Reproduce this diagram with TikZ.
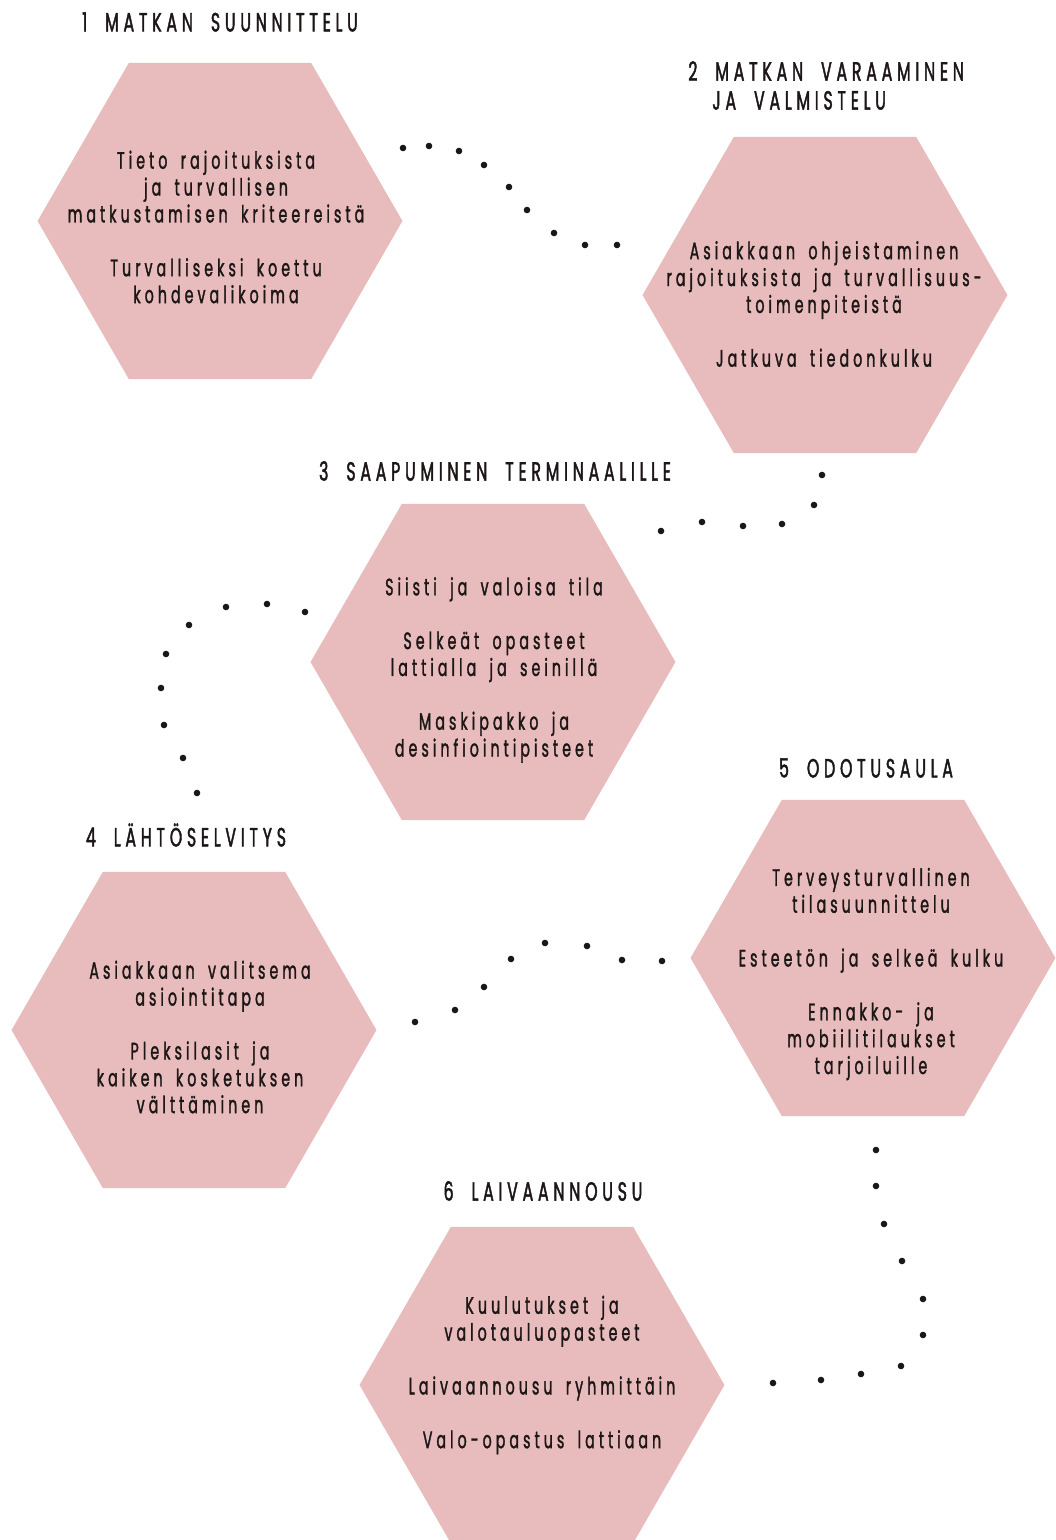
\documentclass[tikz,border=0pt]{standalone}
\usepackage{fontspec}
\setmainfont{Poppins}
\newfontfamily\titlefont[FakeStretch=0.6,FakeBold=1.6,LetterSpace=18,WordSpace=2]{Poppins}
\newfontfamily\bodyfont[FakeStretch=0.6,FakeBold=1.3,LetterSpace=17,WordSpace=1.7]{Poppins}
\usepackage{tikz}
\usetikzlibrary{shapes.geometric}
\usetikzlibrary{positioning}
\definecolor{hexpink}{RGB}{232,188,188}
\definecolor{ink}{RGB}{28,22,22}

\begin{document}
\begin{tikzpicture} [x=0.02cm, y=-0.02cm,
                hexagon/.style = {regular polygon, regular polygon sides=6, minimum size=7.3cm, inner sep=0pt, fill=hexpink},
                steptitle/.style = {font=\titlefont\fontsize{15}{16.5}\selectfont, text=ink, inner sep=0pt},
                steptext/.style = {font=\bodyfont\fontsize{13.5}{15.3}\selectfont, text=ink, align=center, inner sep=0pt},
                dot/.style = {fill=ink}
            ]
            \useasboundingbox (0,0) rectangle (1055,1540);
            \node (hex1) at (220, 221) [hexagon] {};
            \node (hex2) at (825, 295) [hexagon] {};
            \node (hex3) at (493, 662) [hexagon] {};
            \node (hex4) at (194, 1030) [hexagon] {};
            \node (hex5) at (873, 958) [hexagon] {};
            \node (hex6) at (542, 1385) [hexagon] {};
            \node (ttl1) at (220, 22) [steptitle] {1 MATKAN SUUNNITTELU};
            \node (ttl2) at (688, 85.5) [steptitle, anchor=west, align=left] {2 MATKAN VARAAMINEN\\\hspace*{0.48cm}JA VALMISTELU};
            \node (ttl3) at (495, 471) [steptitle] {3 SAAPUMINEN TERMINAALILLE};
            \node (ttl4) at (186, 835) [steptitle] {4 LÄHTÖSELVITYS};
            \node (ttl5) at (866, 768) [steptitle] {5 ODOTUSAULA};
            \node (ttl6) at (543, 1191) [steptitle] {6 LAIVAANNOUSU};
            \node (txt1) at (216, 227) [steptext] {Tieto rajoituksista\\ja turvallisen\\matkustamisen kriteereistä\\[15.3pt]Turvalliseksi koettu\\kohdevalikoima};
            \node (txt2) at (824, 304) [steptext] {Asiakkaan ohjeistaminen\\rajoituksista ja turvallisuus-\\toimenpiteistä\\[15.3pt]Jatkuva tiedonkulku};
            \node (txt3) at (494, 670) [steptext] {Siisti ja valoisa tila\\[15.3pt]Selkeät opasteet\\lattialla ja seinillä\\[15.3pt]Maskipakko ja\\desinfiointipisteet};
            \node (txt4) at (200, 1037) [steptext] {Asiakkaan valitsema\\asiointitapa\\[15.3pt]Pleksilasit ja\\kaiken kosketuksen\\välttäminen};
            \node (txt5) at (871, 974) [steptext] {Terveysturvallinen\\tilasuunnittelu\\[15.3pt]Esteetön ja selkeä kulku\\[15.3pt]Ennakko- ja\\mobiilitilaukset\\tarjoiluille};
            \node (txt6) at (542, 1375) [steptext] {Kuulutukset ja\\valotauluopasteet\\[15.3pt]Laivaannousu ryhmittäin\\[15.3pt]Valo-opastus lattiaan};
            \foreach \x/\y in {403/148, 429/146, 459/151, 484/165, 509/187, 527/210, 554/233, 585/245, 617/245}
                \fill[dot] (\x,\y) circle (3.3);
            \foreach \x/\y in {822/475, 814/505, 782/524, 743/526, 702/522, 661/531}
                \fill[dot] (\x,\y) circle (3.3);
            \foreach \x/\y in {305/612, 267/604, 226/607, 189/625, 166/654, 161/688, 164/725, 183/758, 197/793}
                \fill[dot] (\x,\y) circle (3.3);
            \foreach \x/\y in {415/1022, 455/1010, 484/987, 511/959, 545/943, 587/946, 622/960, 662/961}
                \fill[dot] (\x,\y) circle (3.3);
            \foreach \x/\y in {876/1150, 876/1186, 884/1224, 902/1261, 923/1299, 923/1335, 901/1366, 861/1374, 821/1380, 773/1383}
                \fill[dot] (\x,\y) circle (3.3);
        \end{tikzpicture}
\end{document}
